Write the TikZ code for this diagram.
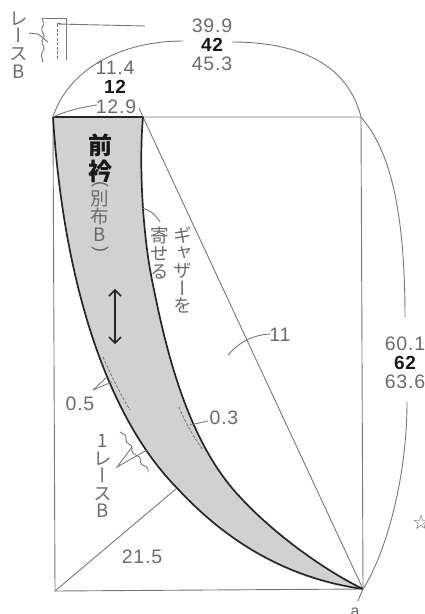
\documentclass[tikz,border=0pt]{standalone}
\usepackage{fontspec}
\setmainfont[LetterSpace=4]{Liberation Sans}
\newfontfamily\cjkv[RawFeature={+vert}]{Noto Sans CJK JP}
\newfontfamily\symf{DejaVu Sans}
\definecolor{txt}{gray}{0.42}
\definecolor{ln}{gray}{0.47}
\definecolor{fillg}{gray}{0.82}
\tikzset{
 x=1pt,y=-1pt,
 thin line/.style={draw=ln,line width=0.9pt},
 outline/.style={draw=black!85,line width=1.7pt,line join=round},
 sew/.style={draw=ln,line width=0.8pt,dash pattern=on 3pt off 1.5pt},
 num/.style={text=txt,inner sep=0pt,font=\fontsize{19.5}{20}\selectfont},
 bnum/.style={text=black!90,inner sep=0pt,font=\bfseries\fontsize{19}{20}\selectfont},
 vt/.style={text=txt,inner sep=0pt,align=center,font=\cjkv\fontsize{18.5}{17.6}\selectfont},
 paren/.style={text=txt,inner sep=0pt,rotate=-90,font=\fontsize{18}{18}\selectfont}
}
\begin{document}
\begin{tikzpicture}
\useasboundingbox (0,0) rectangle (424,614);
\coordinate (tl) at (53,117);
\coordinate (tm) at (143,117);
\coordinate (tr) at (361,117);
\coordinate (bl) at (55,591);
\coordinate (br) at (363,589);
\coordinate (dm) at (177,488);
% filled piece
\path[fill=fillg] (tl) -- (tm)
  .. controls (139,160) and (142,230) .. (152,280)
  .. controls (165,345) and (186,440) .. (240,497)
  .. controls (270,530) and (320,568) .. (br)
  .. controls (285,578) and (225,540) .. (177,488)
  .. controls (110,420) and (64,290) .. (tl) -- cycle;
% frame
\draw[thin line] (tl) -- (tr) -- (br) -- (bl) -- cycle;
\draw[thin line] (tm) -- (br);
\draw[thin line] (bl) -- (dm);
% outline
\draw[outline] (tl) -- (tm)
  .. controls (139,160) and (142,230) .. (152,280)
  .. controls (165,345) and (186,440) .. (240,497)
  .. controls (270,530) and (320,568) .. (br);
\draw[outline] (tl) .. controls (64,290) and (110,420) .. (177,488)
  .. controls (225,540) and (285,578) .. (br);
% sewing lines
\coordinate (s1) at (103,357); \coordinate (s2) at (130,410);
\coordinate (s3) at (179,407); \coordinate (s4) at (203,450);
\draw[sew] (s1) .. controls (112,377) and (120,394) .. (s2);
\draw[sew] (s3) .. controls (185,423) and (194,437) .. (s4);
% dimension labels
\node[num]  (a1) at (212,26) {39.9};
\node[bnum] (a2) at (212,45) {42};
\node[num]  (a3) at (212,64) {45.3};
\node[num]  (b1) at (115,68) {11.4};
\node[bnum] (b2) at (115,87) {12};
\node[num]  (b3) at (116,107) {12.9};
\node[num]  (c1) at (405,344) {60.1};
\node[bnum] (c2) at (405,363) {62};
\node[num]  (c3) at (405,382) {63.6};
\node[num]  (d1) at (142,557) {21.5};
\node[num]  (d2) at (280,335) {11};
\node[num]  (d3) at (80,404) {0.5};
\node[num]  (d4) at (224,418) {0.3};
\node[text=txt,inner sep=0pt,font=\fontsize{16}{16}\selectfont] (aa) at (355,612) {a};
\node[text=txt,inner sep=0pt,font=\symf\fontsize{20}{20}\selectfont,anchor=west] (star) at (412,522) {☆};
% dimension arcs
\coordinate (e1) at (183,41); \coordinate (e2) at (232,42);
\coordinate (e3) at (97,105); \coordinate (e4) at (139,108);
\coordinate (e5) at (405,317); \coordinate (e6) at (407,402);
\draw[thin line] (tl) .. controls (68,70) and (120,41) .. (e1);
\draw[thin line] (e2) .. controls (300,42) and (348,65) .. (tr);
\draw[thin line] (tl) .. controls (66,111) and (82,107) .. (e3);
\draw[thin line] (e4) -- (tm);
\draw[thin line] (tr) .. controls (385,145) and (405,195) .. (e5);
\draw[thin line] (e6) .. controls (407,480) and (385,555) .. (br);
\coordinate (a0) at (358,601);
\draw[thin line] (br) -- (a0);
% leaders
\coordinate (g1) at (142,208); \coordinate (g2) at (160,222);
\draw[thin line] (g1) .. controls (150,210) and (156,215) .. (g2);
\coordinate (l1) at (270,334); \coordinate (l2) at (228,355);
\draw[thin line] (l1) .. controls (252,335) and (238,343) .. (l2);
\coordinate (p1) at (93,390); \coordinate (p2) at (107,377); \coordinate (p3) at (112,382);
\draw[thin line] (p1) -- (p2); \draw[thin line] (p1) -- (p3);
\coordinate (q1) at (208,421); \coordinate (q2) at (190,425);
\draw[thin line] (q1) -- (q2);
% grain arrow
\coordinate (g3) at (115,290); \coordinate (g4) at (115,343);
\draw[black!85,line width=1.5pt] (g3) -- (g4);
\draw[black!85,line width=1.5pt] (109,296) -- (g3) -- (121,296);
\draw[black!85,line width=1.5pt] (109,337) -- (g4) -- (121,337);
% texts in vertical setting
\node[text=black!90,inner sep=0pt,align=center,font=\cjkv\bfseries\fontsize{24}{26}\selectfont] (t1) at (100,158) {前\\衿};
\node[paren] (t2a) at (100,184) {(};
\node[vt] (t2) at (100,216) {別\\布\\B};
\node[paren] (t2b) at (100,249) {)};
\node[vt] (t3) at (160,253) {寄\\せ\\る};
\node[vt] (t4) at (183,270) {ギ\\ャ\\ザ\\ー\\を};
\node[vt] (t5) at (103,476) {1\\レ\\ー\\ス\\B};
\node[vt] (t6) at (19,45) {レ\\ー\\ス\\B};
% lace, bottom
\coordinate (u0) at (117,467); \coordinate (u1) at (132,447); \coordinate (u2) at (147,450);
\draw[thin line] (u1) -- (u0) -- (u2);
\draw[thin line,rounded corners=2pt] (120,432) -- (127,436) -- (125,441) -- (133,447) -- (131,452) -- (141,458) -- (140,464) -- (148,467) -- (148,472);
% lace, top
\coordinate (v1) at (42,18); \coordinate (v2) at (66,18); \coordinate (v3) at (66,60);
\coordinate (v4) at (57,24); \coordinate (v5) at (145,26); \coordinate (v6) at (57,60);
\draw[thin line] (v1) -- (v2) -- (v3);
\draw[thin line] (v4) -- (v5);
\draw[sew] (v4) -- (v6);
\draw[thin line] (v4) -- ++(0,-1) -- ++(4,0);
\draw[thin line,rounded corners=2pt] (v1) -- (44,24) -- (41,30) -- (45,36) -- (41,42) -- (45,48) -- (41,54) -- (43,62);
\coordinate (v7) at (29,33); \coordinate (v8) at (48,42);
\draw[thin line] (v7) -- (38,34) -- (v8);
\end{tikzpicture}
\end{document}
